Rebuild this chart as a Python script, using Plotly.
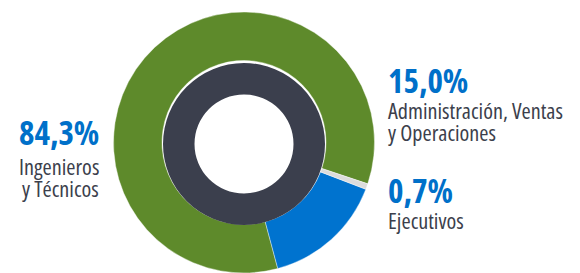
import plotly.graph_objects as go

# Data
categories = ["Ingenieros y Técnicos", "Administración, Ventas y Operaciones", "Ejecutivos"]
values = [84.3, 15.0, 0.7]
pct_labels = ["84,3%", "15,0%", "0,7%"]
label_lines = [["Ingenieros", "y Técnicos"], ["Administración, Ventas", "y Operaciones"], ["Ejecutivos"]]
slice_colors = ["#5e8a2b", "#0073cf", "#dcdcdc"]

W, H = 580, 273
FONT = "Open Sans"
BLUE_TXT = "#0070c9"
GREY_TXT = "#3c3f4c"

# geometry (pixels)
cx = 244
cy_out_top, R_out = 142.5, 130.5
cy_in_top, R_in = 144.0, 81.0
R_hole = 49.5

def dom(cx, cy_top, r):
    cyb = H - cy_top
    return dict(x=[(cx - r) / W, (cx + r) / W], y=[(cyb - r) / H, (cyb + r) / H])

fig = go.Figure()
fig.add_trace(go.Pie(
    labels=categories, values=values, sort=False, direction="counterclockwise",
    rotation=165, hole=(R_in + 1) / R_out,
    marker=dict(colors=slice_colors, line=dict(color="white", width=0.4)),
    textinfo="none", hoverinfo="label+value", showlegend=False,
    domain=dom(cx, cy_out_top, R_out),
))
fig.add_trace(go.Pie(
    labels=["Total"], values=[100], sort=False, hole=R_hole / R_in,
    marker=dict(colors=["#3b3f4d"], line=dict(width=0)),
    textinfo="none", hoverinfo="skip", showlegend=False,
    domain=dom(cx, cy_in_top, R_in),
))

annots = []
def add(text, x, ytop, anchor, size, color, bold=False):
    t = f'<span style="font-stretch:75%">{text}</span>'
    annots.append(dict(text=t, x=x / W, y=1 - ytop / H, xref="paper", yref="paper",
                       xanchor=anchor, yanchor="middle", showarrow=False,
                       font=dict(family=FONT, size=size, color=color,
                                 weight=700 if bold else 400)))

BIG, SMALL = 33, 22.2
# left block (right-aligned)
add(pct_labels[0], 101, 132.5, "right", BIG, BLUE_TXT, True)
add(label_lines[0][0], 101, 166.5, "right", SMALL, GREY_TXT)
add(label_lines[0][1], 101, 188, "right", SMALL, GREY_TXT)
# right blocks (left-aligned)
add(pct_labels[1], 386, 80, "left", BIG, BLUE_TXT, True)
add(label_lines[1][0], 386, 110, "left", SMALL, GREY_TXT)
add(label_lines[1][1], 386, 132, "left", SMALL, GREY_TXT)
add(pct_labels[2], 386, 190.5, "left", BIG, BLUE_TXT, True)
add(label_lines[2][0], 386, 220.5, "left", SMALL, GREY_TXT)

fig.update_layout(width=W, height=H, autosize=False, margin=dict(l=0, r=0, t=0, b=0),
                  paper_bgcolor="white", plot_bgcolor="white", annotations=annots)
fig.write_html("out.html", config={"displayModeBar": False},
               post_script="document.body.style.margin='0';document.body.style.overflow='hidden';")
